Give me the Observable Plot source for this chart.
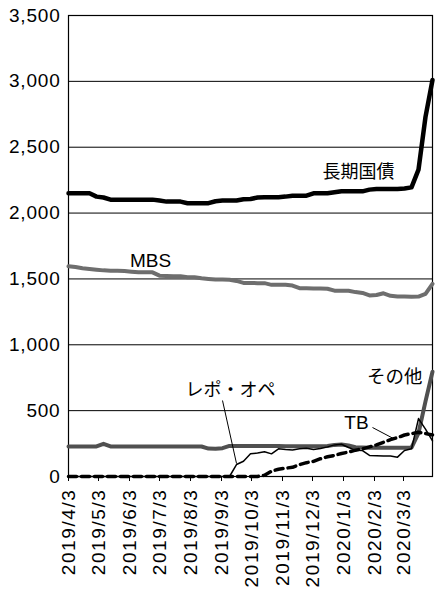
<!DOCTYPE html>
<html><head><meta charset="utf-8">
<script src="https://cdn.jsdelivr.net/npm/d3@7"></script>
<script src="https://cdn.jsdelivr.net/npm/@observablehq/plot@0.6"></script>
<style>
body{margin:0;background:#fff}
#chart svg{display:block}
#chart g[aria-label="x-axis tick label"] text{letter-spacing:1.6px}
#chart g[aria-label="y-axis tick label"] text{letter-spacing:0.8px}
</style>
</head><body><div id="chart"></div>
<script>
const dates = ["2019-04-03","2019-04-10","2019-04-17","2019-04-24","2019-05-01","2019-05-08","2019-05-15","2019-05-22","2019-05-29","2019-06-05","2019-06-12","2019-06-19","2019-06-26","2019-07-03","2019-07-10","2019-07-17","2019-07-24","2019-07-31","2019-08-07","2019-08-14","2019-08-21","2019-08-28","2019-09-04","2019-09-11","2019-09-18","2019-09-25","2019-10-02","2019-10-09","2019-10-16","2019-10-23","2019-10-30","2019-11-06","2019-11-13","2019-11-20","2019-11-27","2019-12-04","2019-12-11","2019-12-18","2019-12-25","2020-01-01","2020-01-08","2020-01-15","2020-01-22","2020-01-29","2020-02-05","2020-02-12","2020-02-19","2020-02-26","2020-03-04","2020-03-11","2020-03-18","2020-03-25","2020-04-01"];

const treasury = [2150,2150,2150,2150,2125,2118,2102,2102,2102,2102,2102,2102,2102,2095,2087,2087,2087,2075,2075,2075,2075,2090,2095,2095,2095,2105,2107,2118,2120,2120,2120,2125,2132,2132,2132,2150,2150,2150,2158,2165,2165,2165,2165,2178,2183,2183,2183,2183,2187,2195,2330,2730,3010];

const mbs = [1596,1590,1581,1576,1570,1565,1563,1563,1560,1555,1550,1550,1550,1525,1522,1520,1520,1512,1512,1505,1500,1495,1495,1493,1485,1470,1470,1468,1468,1455,1455,1455,1450,1430,1430,1428,1428,1425,1411,1411,1410,1400,1394,1375,1378,1391,1372,1366,1366,1365,1366,1386,1462];

const other = [228,228,228,228,228,248,228,228,228,228,228,228,228,228,228,228,228,228,228,228,212,210,215,232,232,232,232,232,232,232,232,230,230,230,230,230,230,232,240,243,235,222,220,218,218,218,218,218,218,220,330,570,795];

const tb = [0,0,0,0,0,0,0,0,0,0,0,0,0,0,0,0,0,0,0,0,0,0,0,0,0,0,0,0,10,40,55,63,70,90,105,115,135,150,160,175,185,200,210,225,240,260,280,295,315,325,336,326,315];

const repo = [0,0,0,0,0,0,0,0,0,0,0,0,0,0,0,0,0,0,0,0,0,0,0,0,91,116,172,178,188,172,210,205,202,210,215,205,212,225,240,245,220,200,197,160,158,155,155,147,197,210,440,360,270];

const xTickLabels = ["2019/4/3","2019/5/3","2019/6/3","2019/7/3","2019/8/3","2019/9/3","2019/10/3","2019/11/3","2019/12/3","2020/1/3","2020/2/3","2020/3/3"];
const yTicks = [0,500,1000,1500,2000,2500,3000,3500];

const parseDate = d3.utcParse("%Y-%m-%d");
const parseTick = d3.utcParse("%Y/%m/%d");
const rows = (vals) => dates.map((d, i) => ({date: parseDate(d), value: vals[i]}));
const fmtTick = d => `${d.getUTCFullYear()}/${d.getUTCMonth() + 1}/${d.getUTCDate()}`;

const jp = "'Noto Sans CJK JP', sans-serif";
const lab = (date, value, text) => ({date: parseDate(date), value, text});

const chart = Plot.plot({
  width: 437,
  height: 589,
  marginLeft: 68,
  marginRight: 5,
  marginTop: 15,
  marginBottom: 113,
  style: {fontFamily: "'Liberation Sans', Arial, sans-serif", fontSize: "19px", color: "#000", background: "#fff"},
  x: {type: "utc", domain: [parseDate("2019-04-03"), parseDate("2020-04-01")]},
  y: {domain: [0, 3500]},
  marks: [
    Plot.gridY(yTicks, {stroke: "#000", strokeOpacity: 1, strokeWidth: 1}),
    Plot.frame({stroke: "#000", strokeWidth: 1.2}),
    Plot.axisY({ticks: yTicks, tickFormat: d3.format(","), tickSize: 0, tickPadding: 8, label: null, fontSize: 19}),
    Plot.axisX({ticks: xTickLabels.map(parseTick), tickFormat: fmtTick, tickRotate: -90, tickSize: 5, tickPadding: 7, label: null, fontSize: 19}),
    Plot.line(rows(mbs), {x: "date", y: "value", stroke: "#6e6e6e", strokeWidth: 4}),
    Plot.line(rows(other), {x: "date", y: "value", stroke: "#505050", strokeWidth: 4}),
    Plot.line(rows(tb), {x: "date", y: "value", stroke: "#000", strokeWidth: 3.5, strokeDasharray: "8,5"}),
    Plot.line(rows(repo), {x: "date", y: "value", stroke: "#000", strokeWidth: 1.5}),
    Plot.line(rows(treasury), {x: "date", y: "value", stroke: "#000", strokeWidth: 4.5}),
    Plot.link([{x1: parseDate("2019-09-04"), y1: 577, x2: parseDate("2019-09-18"), y2: 99},
               {x1: parseDate("2020-02-01"), y1: 372, x2: parseDate("2020-02-22"), y2: 288}],
      {x1: "x1", y1: "y1", x2: "x2", y2: "y2", stroke: "#000", strokeWidth: 1}),
    Plot.text([lab("2019-12-13", 2310, "長期国債")], {x: "date", y: "value", text: "text", textAnchor: "start", fontFamily: jp, fontSize: 18, fill: "#000"}),
    Plot.text([lab("2019-06-24", 1640, "MBS")], {x: "date", y: "value", text: "text", fontFamily: "'Liberation Sans', Arial, sans-serif", fontSize: 19, fill: "#000"}),
    Plot.text([lab("2019-09-12", 653, "レポ・オペ")], {x: "date", y: "value", text: "text", fontFamily: jp, fontSize: 18, fill: "#000"}),
    Plot.text([lab("2020-03-22", 755, "その他")], {x: "date", y: "value", text: "text", textAnchor: "end", fontFamily: jp, fontSize: 18.5, fill: "#000"}),
    Plot.text([lab("2020-01-16", 410, "TB")], {x: "date", y: "value", text: "text", fontFamily: "'Liberation Sans', Arial, sans-serif", fontSize: 19, fill: "#000"})
  ]
});
document.getElementById("chart").appendChild(chart);
</script>
</body></html>
